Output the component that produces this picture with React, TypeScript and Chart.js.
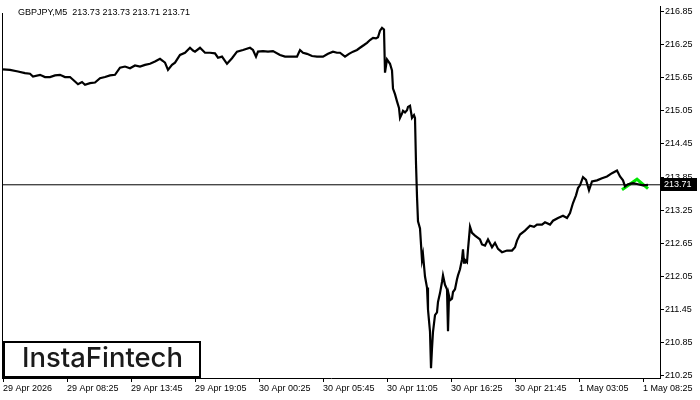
import React, { useEffect, useRef } from "react";
import { Chart, registerables } from "chart.js";

Chart.register(...registerables);

const symbolTitle = "GBPJPY,M5  213.73 213.73 213.71 213.71";
const lastPrice = 213.71;
const logoText = "InstaFintech";

const timeTickPos = [3, 67, 131, 195, 259, 323, 387, 451, 515, 579, 643];
const timeTickLabels = [
  "29 Apr 2026", "29 Apr 08:25", "29 Apr 13:45", "29 Apr 19:05", "30 Apr 00:25",
  "30 Apr 05:45", "30 Apr 11:05", "30 Apr 16:25", "30 Apr 21:45", "1 May 03:05", "1 May 08:25",
];
const priceTicks = [216.85, 216.25, 215.65, 215.05, 214.45, 213.85, 213.25, 212.65, 212.05, 211.45, 210.85, 210.25];

const barPos = [
  3, 10, 18, 25, 30, 33, 40, 45, 50, 55, 60, 65, 70, 75, 78, 82, 85, 90, 95, 100,
  105, 110, 115, 120, 125, 130, 135, 140, 145, 150, 155, 160, 163, 165, 168, 172, 175, 180, 185, 190,
  193, 195, 200, 205, 210, 215, 218, 222, 227, 232, 237, 243, 250, 253, 256, 258, 263, 268, 273, 280,
  285, 290, 297, 300, 303, 307, 312, 317, 323, 328, 333, 337, 340, 345, 349, 353, 357, 360, 364, 367,
  370, 373, 376, 378, 380, 382, 384, 385, 387, 390, 392, 393, 395, 397, 399, 400, 402, 403, 405, 407,
  408, 410, 412, 414, 415, 416, 417, 418, 420, 422, 423, 425, 427, 428, 430, 431, 432, 433, 435, 437,
  438, 440, 442, 443, 445, 447, 448, 449, 450, 452, 453, 455, 457, 458, 460, 462, 463, 464, 465, 467,
  468, 470, 472, 475, 478, 480, 482, 485, 488, 490, 492, 495, 498, 502, 507, 512, 515, 517, 520, 525,
  530, 534, 537, 542, 545, 550, 553, 558, 563, 567, 570, 573, 576, 578, 580, 583, 586, 589, 592, 597,
  602, 607, 612, 617, 620, 623, 625, 628, 633, 638, 643, 648,
];
const closePrice = [
  215.8, 215.79, 215.76, 215.73, 215.72, 215.67, 215.7, 215.66, 215.66, 215.69, 215.7, 215.66, 215.66, 215.58, 215.53, 215.57, 215.52, 215.55, 215.56, 215.64,
  215.66, 215.69, 215.7, 215.83, 215.85, 215.82, 215.87, 215.85, 215.88, 215.9, 215.94, 215.99, 215.95, 215.92, 215.79, 215.88, 215.92, 216.06, 216.1, 216.19,
  216.14, 216.12, 216.19, 216.1, 216.1, 216.09, 216.01, 216.03, 215.9, 216.0, 216.12, 216.15, 216.19, 216.15, 216.03, 216.12, 216.13, 216.12, 216.13, 216.06,
  216.03, 216.03, 216.03, 216.15, 216.1, 216.08, 216.04, 216.03, 216.03, 216.08, 216.12, 216.1, 216.1, 216.03, 216.08, 216.12, 216.15, 216.19, 216.24, 216.28,
  216.33, 216.37, 216.36, 216.38, 216.5, 216.55, 216.52, 215.74, 215.98, 215.9, 215.78, 215.45, 215.35, 215.22, 215.1, 214.92, 215.0, 215.05, 215.02, 215.06,
  215.12, 215.14, 214.92, 214.97, 214.92, 214.1, 213.5, 213.05, 212.92, 212.35, 212.45, 212.05, 211.85, 211.45, 211.05, 210.39, 210.75, 211.05, 211.35, 211.4,
  211.59, 211.75, 211.95, 212.07, 211.9, 211.82, 211.06, 211.7, 211.62, 211.65, 211.77, 211.82, 212.0, 212.07, 212.18, 212.36, 212.54, 212.3, 212.35, 212.31,
  212.54, 212.95, 212.84, 212.79, 212.75, 212.72, 212.63, 212.61, 212.72, 212.65, 212.58, 212.66, 212.55, 212.49, 212.52, 212.52, 212.58, 212.7, 212.81, 212.88,
  212.97, 212.95, 212.99, 212.99, 213.03, 212.99, 213.06, 213.11, 213.15, 213.11, 213.2, 213.38, 213.52, 213.65, 213.7, 213.85, 213.8, 213.61, 213.77, 213.79,
  213.83, 213.86, 213.92, 213.97, 213.86, 213.79, 213.68, 213.72, 213.74, 213.72, 213.7, 213.71,
];

const patternPos = [622, 637, 648];
const patternPrice = [213.62, 213.81, 213.64];

const linePos = [2, 660];

const FONT = "Liberation Sans";

const overlayPlugin = {
  id: "overlay",
  afterDraw(chart: any) {
    const ctx = chart.ctx as CanvasRenderingContext2D;
    const yScale = chart.scales.y;
    const area = chart.chartArea;
    ctx.save();
    ctx.strokeStyle = "#000";
    ctx.lineWidth = 1;
    ctx.beginPath();
    ctx.moveTo(area.left + 0.5, 13);
    ctx.lineTo(area.left + 0.5, area.bottom);
    ctx.stroke();
    ctx.fillStyle = "#000";
    ctx.font = `9px "${FONT}"`;
    ctx.textBaseline = "alphabetic";
    ctx.textAlign = "left";
    ctx.fillText(symbolTitle, 18, 15);
    const py = Math.floor(yScale.getPixelForValue(lastPrice));
    ctx.fillStyle = "#000";
    ctx.fillRect(661, py - 6, 36, 13);
    ctx.fillStyle = "#fff";
    ctx.textBaseline = "middle";
    ctx.fillText(lastPrice.toFixed(2), 664, py + 0.5);
    ctx.fillStyle = "#fff";
    ctx.fillRect(3, 341, 198, 37);
    ctx.strokeStyle = "#000";
    ctx.lineWidth = 2;
    ctx.strokeRect(4, 342, 196, 35);
    ctx.fillStyle = "#1a1a1a";
    ctx.font = `500 24px "Inter"`;
    const w = ctx.measureText(logoText).width;
    const size = (24 * 161) / w;
    ctx.font = `500 ${size}px "Inter"`;
    ctx.textBaseline = "alphabetic";
    ctx.fillText(logoText, 22, 367);
    ctx.restore();
  },
};

export default function App() {
  const ref = useRef<HTMLCanvasElement | null>(null);
  useEffect(() => {
    if (!ref.current) return;
    const chart = new Chart(ref.current, {
      type: "line",
      data: {
        datasets: [
          {
            data: linePos.map((x) => ({ x, y: lastPrice })),
            borderColor: "#000",
            borderWidth: 1,
            pointRadius: 0,
          },
          {
            data: barPos.map((x, i) => ({ x, y: closePrice[i] })),
            borderColor: "#000",
            borderWidth: 2.2,
            pointRadius: 0,
            tension: 0,
            borderJoinStyle: "miter",
          },
          {
            data: patternPos.map((x, i) => ({ x, y: patternPrice[i] })),
            borderColor: "#00e600",
            borderWidth: 3,
            pointRadius: 0,
            tension: 0,
          },
        ],
      },
      options: {
        responsive: false,
        animation: false,
        events: [],
        layout: { padding: { left: 2, top: 2, right: 0, bottom: 0 } },
        plugins: { legend: { display: false }, tooltip: { enabled: false } },
        scales: {
          x: {
            type: "linear",
            position: "bottom",
            min: 2,
            max: 660,
            afterBuildTicks: (s: any) => {
              s.ticks = timeTickPos.map((v) => ({ value: v }));
            },
            afterFit: (s: any) => {
              s.height = 22;
            },
            ticks: {
              autoSkip: false,
              maxRotation: 0,
              minRotation: 0,
              align: "start",
              padding: 1,
              color: "#000",
              font: { family: FONT, size: 9 },
              callback: (v: any) => {
                const i = timeTickPos.indexOf(Number(v));
                return i >= 0 ? timeTickLabels[i] : "";
              },
            },
            grid: { drawOnChartArea: false, drawTicks: true, tickLength: 4, color: "#000" },
            border: { display: true, color: "#000", width: 1 },
          },
          y: {
            type: "linear",
            position: "right",
            min: 210.2133,
            max: 216.9385,
            afterBuildTicks: (s: any) => {
              s.ticks = priceTicks.map((v) => ({ value: v }));
            },
            afterFit: (s: any) => {
              s.width = 40;
            },
            ticks: {
              autoSkip: false,
              padding: 1,
              color: "#000",
              font: { family: FONT, size: 9 },
              callback: (v: any) => Number(v).toFixed(2),
            },
            grid: { drawOnChartArea: false, drawTicks: true, tickLength: 4, color: "#000" },
            border: { display: true, color: "#000", width: 1 },
          },
        },
      },
      plugins: [overlayPlugin],
    } as any);
    return () => chart.destroy();
  }, []);
  return (
    <div style={{ position: "fixed", left: 0, top: 0, width: 700, height: 400, background: "#fff" }}>
      <canvas ref={ref} width={700} height={400} />
    </div>
  );
}
